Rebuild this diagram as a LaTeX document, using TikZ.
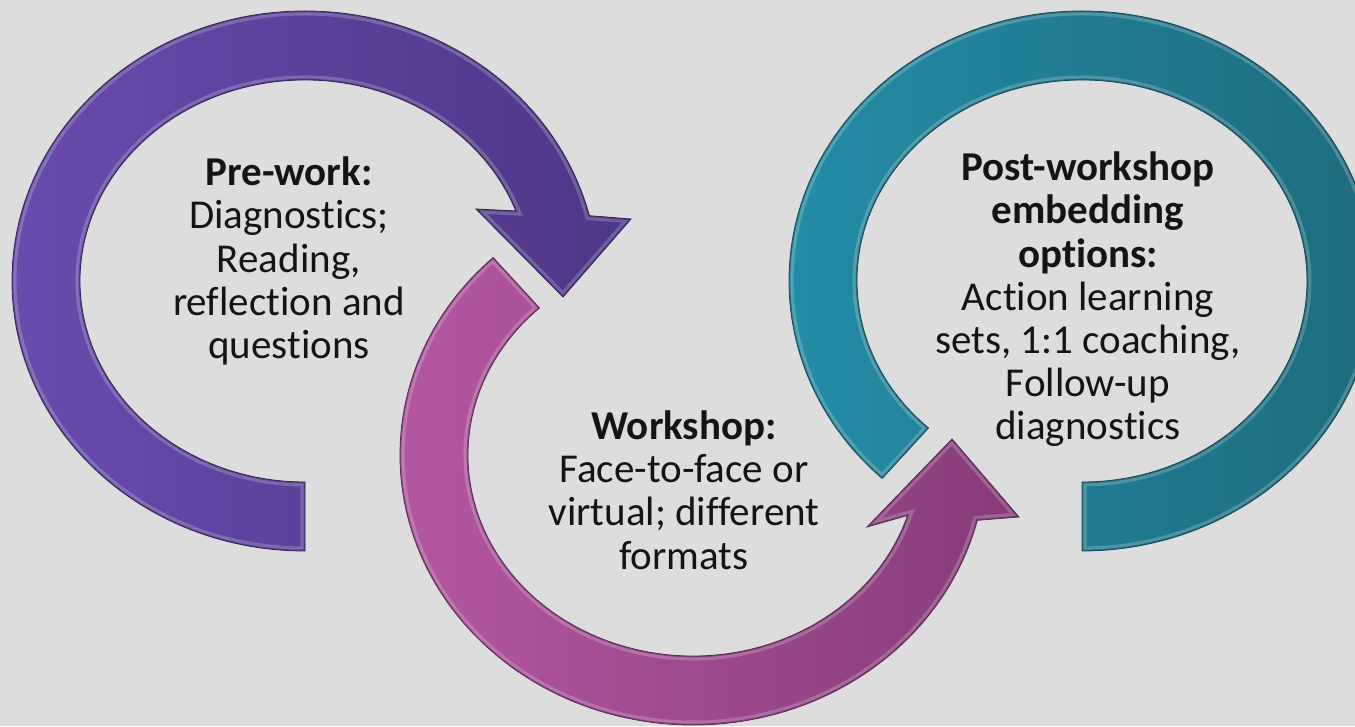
\documentclass[tikz,border=0pt]{standalone}
\usepackage{fontspec}
\setmainfont{Carlito}[Ligatures=NoCommon]
\begin{document}
\begin{tikzpicture}[x=1pt,y=1pt]
  % palette
  \definecolor{bg}{RGB}{221,221,221}
  \definecolor{violetL}{RGB}{106,75,174}
  \definecolor{violetR}{RGB}{78,54,134}
  \definecolor{violetE}{RGB}{52,33,98}
  \definecolor{magentaL}{RGB}{182,88,164}
  \definecolor{magentaR}{RGB}{134,60,120}
  \definecolor{magentaE}{RGB}{100,38,88}
  \definecolor{tealL}{RGB}{36,142,168}
  \definecolor{tealR}{RGB}{29,106,124}
  \definecolor{tealE}{RGB}{16,78,94}
  \definecolor{ink}{RGB}{20,20,20}
  \tikzset{
    lbl/.style={align=center, text=ink, inner sep=0pt,
      font=\fontsize{41}{43.2}\selectfont},
    glow/.style={draw=white, draw opacity=0.20, line width=9pt},
    rim/.style={draw=black, draw opacity=0.32, line width=2.6pt},
  }
  % ring outlines (outer ellipse 293 x 270, inner ellipse 225 x 201)
  \def\PrePath{(305,175)
    arc[start angle=270, end angle=14, x radius=293pt, y radius=270pt]
    -- (631,507) -- (563,429) -- (476,517)
    -- ([shift={(305,445)}]20.4:225pt and 201pt)
    arc[start angle=20.4, end angle=270, x radius=225pt, y radius=201pt]
    -- cycle}
  \def\WorkPath{([shift={(693,271)}]133:293pt and 270pt)
    arc[start angle=133, end angle=346, x radius=293pt, y radius=270pt]
    -- (1019,209) -- (952,287) -- (867,199)
    -- ([shift={(693,271)}]342.5:225pt and 201pt)
    arc[start angle=342.5, end angle=133, x radius=225pt, y radius=201pt]
    -- cycle}
  \def\PostPath{([shift={(1082,445)}]227:293pt and 270pt)
    arc[start angle=227, end angle=-90, x radius=293pt, y radius=270pt]
    -- ([shift={(1082,445)}]-90:225pt and 201pt)
    arc[start angle=-90, end angle=227, x radius=225pt, y radius=201pt]
    -- cycle}

  \fill[bg] (0,0) rectangle (1355,726);
  \useasboundingbox (0,0) rectangle (1355,726);
  \clip (0,0) rectangle (1355,726);

  % teal ring
  \path[left color=tealL, right color=tealR] \PostPath;
  \begin{scope}
    \clip \PostPath;
    \path[glow] \PostPath;
    \path[rim] \PostPath;
  \end{scope}
  \path[draw=tealE, line width=0.8pt] \PostPath;

  % magenta arrow
  \path[left color=magentaL, right color=magentaR] \WorkPath;
  \begin{scope}
    \clip \WorkPath;
    \path[glow] \WorkPath;
    \path[rim] \WorkPath;
  \end{scope}
  \path[draw=magentaE, line width=0.8pt] \WorkPath;

  % violet arrow
  \path[left color=violetL, right color=violetR] \PrePath;
  \begin{scope}
    \clip \PrePath;
    \path[glow] \PrePath;
    \path[rim] \PrePath;
  \end{scope}
  \path[draw=violetE, line width=0.8pt] \PrePath;

  % labels
  \node[lbl] (prework) at (289,465)
    {\textbf{Pre-work:}\\Diagnostics;\\Reading,\\reflection and\\questions};
  \node[lbl] (workshop) at (684,236)
    {\textbf{Workshop:}\\Face-to-face or\\virtual; different\\formats};
  \node[lbl] (postwork) at (1088,426.5)
    {\textbf{Post-workshop}\\\textbf{embedding}\\\textbf{options:}\\Action learning\\sets, 1:1 coaching,\\Follow-up\\diagnostics};
\end{tikzpicture}
\end{document}
